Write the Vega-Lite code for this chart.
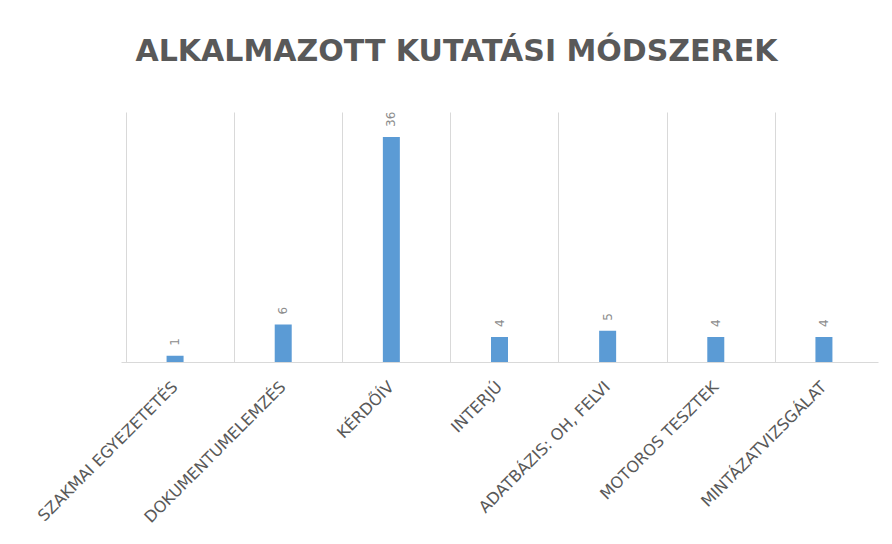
{
  "$schema": "https://vega.github.io/schema/vega-lite/v6.json",
  "autosize": {"type": "none"},
  "padding": {"left": 121, "top": 112, "right": 14, "bottom": 182},
  "width": 757,
  "height": 250,
  "background": "white",
  "title": {
    "text": "ALKALMAZOTT KUTATÁSI MÓDSZEREK",
    "font": "DejaVu Sans",
    "fontSize": 30,
    "fontWeight": "bold",
    "color": "#595959",
    "anchor": "middle",
    "dx": -43,
    "offset": 45
  },
  "data": {
    "values": [
      {"modszer": "SZAKMAI EGYEZETETÉS", "db": 1},
      {"modszer": "DOKUMENTUMELEMZÉS", "db": 6},
      {"modszer": "KÉRDŐÍV", "db": 36},
      {"modszer": "INTERJÚ", "db": 4},
      {"modszer": "ADATBÁZIS: OH, FELVI", "db": 5},
      {"modszer": "MOTOROS TESZTEK", "db": 4},
      {"modszer": "MINTÁZATVIZSGÁLAT", "db": 4}
    ]
  },
  "encoding": {
    "x": {
      "field": "modszer",
      "type": "nominal",
      "sort": null,
      "title": null,
      "axis": {
        "labelAngle": -45,
        "labelAlign": "right",
        "labelBaseline": "middle",
        "labelPadding": 22,
        "labelFont": "DejaVu Sans",
        "labelFontSize": 16,
        "labelColor": "#595959",
        "labelLimit": 400,
        "ticks": false,
        "grid": true,
        "bandPosition": 0,
        "gridColor": "#d9d9d9",
        "domainColor": "#d9d9d9"
      }
    },
    "y": {
      "field": "db",
      "type": "quantitative",
      "scale": {"domain": [0, 40]},
      "axis": null
    }
  },
  "layer": [
    {
      "mark": {"type": "bar", "color": "#5B9BD5", "size": 17},
      "encoding": {
        "y": {
          "field": "db",
          "type": "quantitative",
          "scale": {"domain": [0, 40]},
          "axis": {"orient": "right", "labels": false, "ticks": false, "grid": false, "domain": true, "domainColor": "#d9d9d9", "title": null}
        }
      }
    },
    {
      "mark": {"type": "text", "angle": 270, "align": "left", "baseline": "middle", "dx": 10, "font": "DejaVu Sans", "fontSize": 12, "color": "#8c8c8c"},
      "encoding": {"text": {"field": "db", "type": "quantitative"}}
    }
  ],
  "config": {"view": {"stroke": null}}
}
